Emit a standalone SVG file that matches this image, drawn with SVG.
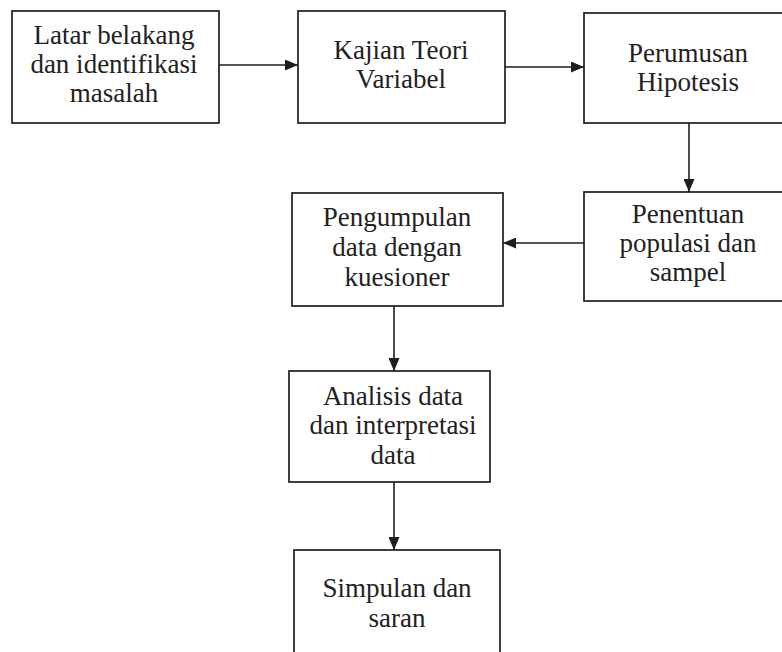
<svg xmlns="http://www.w3.org/2000/svg" width="782" height="652" viewBox="0 0 782 652">
<defs>
<style>
.box{fill:#fff;stroke:#1e1e1e;stroke-width:1.7}
.t{font-family:'Liberation Serif','Times New Roman',serif;font-size:27px;fill:#222;text-anchor:middle}
.c{stroke:#1e1e1e;stroke-width:1.6;fill:none;marker-end:url(#ah)}
</style>
<marker id="ah" markerUnits="userSpaceOnUse" markerWidth="13" markerHeight="11" refX="13" refY="5.5" orient="auto">
<path d="M0,0 L13,5.5 L0,11 z" fill="#1e1e1e"/>
</marker>
</defs>
<rect width="782" height="652" fill="#fff"/>
<g id="connectors">
<line class="c" x1="219" y1="65" x2="298" y2="65"/>
<line class="c" x1="505" y1="67" x2="584" y2="67"/>
<line class="c" x1="689" y1="123" x2="689" y2="192"/>
<line class="c" x1="584" y1="243" x2="503" y2="243"/>
<line class="c" x1="394" y1="306" x2="394" y2="371"/>
<line class="c" x1="394" y1="482" x2="394" y2="550"/>
</g>
<g id="n1">
<rect class="box" x="12" y="11" width="207" height="112"/>
<text class="t" x="114" y="44">Latar belakang</text>
<text class="t" x="114" y="73">dan identifikasi</text>
<text class="t" x="114" y="102">masalah</text>
</g>
<g id="n2">
<rect class="box" x="298" y="11" width="207" height="112"/>
<text class="t" x="401" y="59">Kajian Teori</text>
<text class="t" x="401" y="88">Variabel</text>
</g>
<g id="n3">
<rect class="box" x="584" y="13" width="210" height="110"/>
<text class="t" x="688" y="62">Perumusan</text>
<text class="t" x="688" y="91">Hipotesis</text>
</g>
<g id="n4">
<rect class="box" x="584" y="192" width="210" height="109"/>
<text class="t" x="688" y="223">Penentuan</text>
<text class="t" x="688" y="252">populasi dan</text>
<text class="t" x="688" y="281">sampel</text>
</g>
<g id="n5">
<rect class="box" x="292" y="193" width="211" height="113"/>
<text class="t" x="397" y="226">Pengumpulan</text>
<text class="t" x="397" y="256">data dengan</text>
<text class="t" x="397" y="286">kuesioner</text>
</g>
<g id="n6">
<rect class="box" x="289" y="371" width="201" height="111"/>
<text class="t" x="393" y="405">Analisis data</text>
<text class="t" x="393" y="434">dan interpretasi</text>
<text class="t" x="393" y="464">data</text>
</g>
<g id="n7">
<rect class="box" x="294" y="550" width="206" height="120"/>
<text class="t" x="397" y="597">Simpulan dan</text>
<text class="t" x="397" y="627">saran</text>
</g>
</svg>
